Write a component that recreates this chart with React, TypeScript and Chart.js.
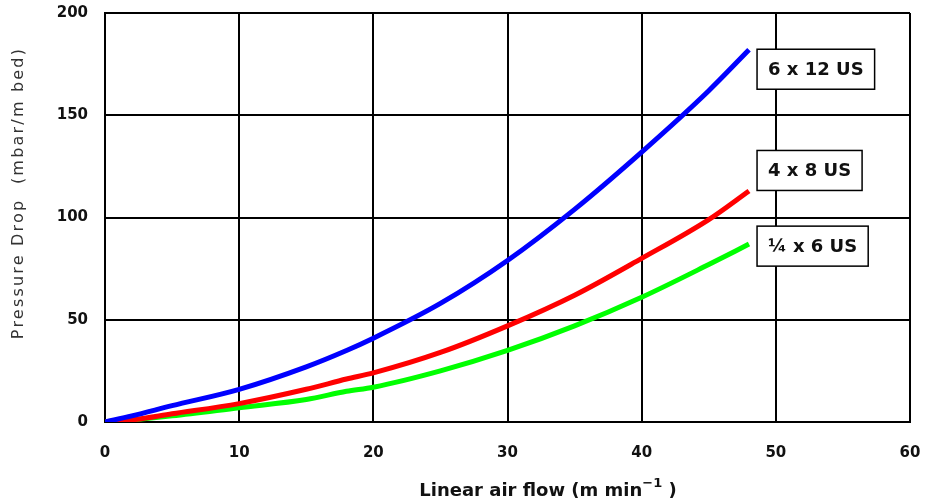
import React, { useEffect, useRef } from "react";
import { Chart, registerables } from "chart.js";

Chart.register(...registerables);

const flowX = [0, 2, 5, 10, 15, 18, 20, 25, 30, 35, 40, 45, 48];
const blue6x12 = [0, 3, 8, 16, 27, 35, 41, 58, 79, 104, 132, 162, 182];
const red4x8 = [0, 1, 4, 9, 16, 21, 24, 34, 47, 62, 80, 99, 113];
const greenQx6 = [0, 1, 3, 7, 11, 15, 17, 25, 35, 47, 61, 77, 87];

const seriesNames = ["6 x 12 US", "4 x 8 US", "¼ x 6 US"];
const seriesColors = ["#0000ff", "#ff0000", "#00ff00"];
const labelX = [48.6, 48.6, 48.6];
const labelY = [172.5, 123, 86];

const xTitle = "Linear air flow (m min";
const xTitleSup = "−1";
const yTitle = "Pressure Drop  (mbar/m bed)";

const toXY = (ys: number[]) => ys.map((y, i) => ({ x: flowX[i], y }));

const overlay = {
  id: "overlay",
  afterDatasetsDraw(chart: any) {
    const ctx = chart.ctx;
    const xs = chart.scales.x;
    const ys = chart.scales.y;
    const area = chart.chartArea;
    ctx.save();
    // series label boxes
    ctx.font = "bold 18px 'DejaVu Sans', sans-serif";
    ctx.textBaseline = "middle";
    ctx.textAlign = "center";
    seriesNames.forEach((name, i) => {
      const lx = xs.getPixelForValue(labelX[i]);
      const cy = ys.getPixelForValue(labelY[i]);
      const w = ctx.measureText(name).width + 22;
      const h = 40;
      ctx.fillStyle = "#ffffff";
      ctx.fillRect(lx, cy - h / 2, w, h);
      ctx.strokeStyle = "#000000";
      ctx.lineWidth = 1.5;
      ctx.strokeRect(lx, cy - h / 2, w, h);
      ctx.fillStyle = "#111111";
      ctx.fillText(name, lx + w / 2, cy + 1);
    });
    // x title with superscript
    const main = "bold 18px 'DejaVu Sans', sans-serif";
    const sup = "bold 13px 'DejaVu Sans', sans-serif";
    ctx.font = main;
    const w1 = ctx.measureText(xTitle).width;
    ctx.font = sup;
    const w2 = ctx.measureText(xTitleSup).width;
    ctx.font = main;
    const w3 = ctx.measureText(" )").width;
    const total = w1 + w2 + w3;
    const cx = 548;
    let x0 = cx - total / 2;
    const ty = area.bottom + 69;
    ctx.textAlign = "left";
    ctx.textBaseline = "middle";
    ctx.fillStyle = "#111111";
    ctx.font = main;
    ctx.fillText(xTitle, x0, ty);
    x0 += w1;
    ctx.font = sup;
    ctx.fillText(xTitleSup, x0, ty - 7);
    x0 += w2;
    ctx.font = main;
    ctx.fillText(" )", x0, ty);
    // y title rotated
    ctx.translate(19, 193);
    ctx.rotate(-Math.PI / 2);
    ctx.font = "16px 'DejaVu Sans', sans-serif";
    (ctx as any).letterSpacing = "2.2px";
    ctx.textAlign = "center";
    ctx.fillStyle = "#333333";
    ctx.fillText(yTitle, 0, 0);
    ctx.restore();
  },
};

const zeroPad = (s: any) => {
  s.paddingTop = 0;
  s.paddingBottom = 0;
  s.paddingLeft = 0;
  s.paddingRight = 0;
};

export default function App() {
  const ref = useRef<HTMLCanvasElement>(null);
  useEffect(() => {
    if (!ref.current) return;
    const tickFont = { family: "'DejaVu Sans', sans-serif", size: 15, weight: "bold" as const };
    const chart = new Chart(ref.current, {
      type: "line",
      data: {
        datasets: [blue6x12, red4x8, greenQx6].map((d, i) => ({
          label: seriesNames[i],
          data: toXY(d),
          borderColor: seriesColors[i],
          backgroundColor: seriesColors[i],
          borderWidth: 5,
          pointRadius: 0,
          tension: 0.35,
          cubicInterpolationMode: "monotone" as const,
        })),
      },
      options: {
        animation: false,
        responsive: false,
        maintainAspectRatio: false,
        layout: { padding: { top: 13, right: 15, left: 0, bottom: 0 } },
        plugins: { legend: { display: false }, tooltip: { enabled: false } },
        scales: {
          x: {
            type: "linear",
            min: 0,
            max: 60,
            afterFit: (s: any) => {
              s.height = 82;
              zeroPad(s);
            },
            ticks: { stepSize: 10, color: "#111", font: tickFont, padding: 22 },
            grid: { color: "#000", lineWidth: 2, drawTicks: false },
            border: { color: "#000", width: 2 },
          },
          y: {
            type: "linear",
            min: 0,
            max: 200,
            afterFit: (s: any) => {
              s.width = 105;
              zeroPad(s);
            },
            ticks: { stepSize: 50, color: "#111", font: tickFont, padding: 17 },
            grid: { color: "#000", lineWidth: 2, drawTicks: false },
            border: { color: "#000", width: 2 },
          },
        },
      },
      plugins: [overlay],
    });
    return () => chart.destroy();
  }, []);
  return (
    <div style={{ position: "fixed", left: 0, top: 0, width: 925, height: 504, background: "#fff" }}>
      <canvas ref={ref} width={925} height={504} style={{ width: 925, height: 504 }} />
    </div>
  );
}
